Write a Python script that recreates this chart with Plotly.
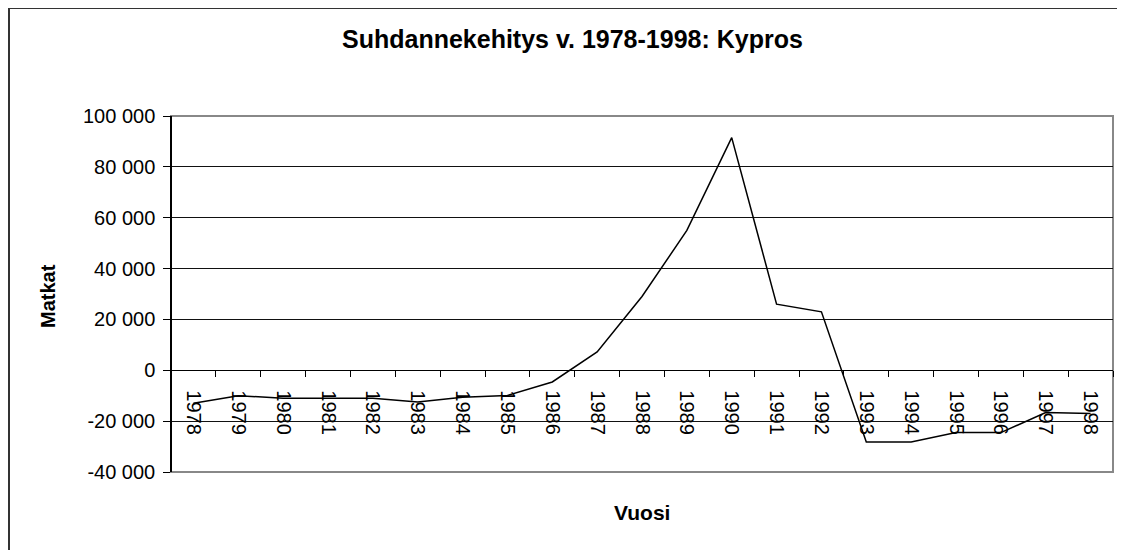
import plotly.graph_objects as go

years = [str(y) for y in range(1978, 1999)]
values = [-13000, -10000, -11000, -11000, -11000, -12500, -10600, -9900, -4600, 7200,
          29000, 55000, 91500, 26000, 23000, -28200, -28200, -24500, -24500, -16600, -17000]
y_ticks = [-40000, -20000, 0, 20000, 40000, 60000, 80000, 100000]
y_ticktext = ["-40 000", "-20 000", "0", "20 000", "40 000", "60 000", "80 000", "100 000"]
y_min, y_max = -40000, 100000

title_text = "Suhdannekehitys v. 1978-1998: Kypros"
x_title = "Vuosi"
y_title = "Matkat"

FONT = "Arial, Liberation Sans, sans-serif"

# page is offset by 8px body margin; plot area on page: x 171..1113, y 116..472
L, T, PW, PH = 163, 108, 942, 356


def px(x):
    return (x - 171) / PW


def py(y):
    return (472 - y) / PH


fig = go.Figure()
fig.add_trace(go.Scatter(x=years, y=values, mode="lines",
                         line=dict(color="black", width=1.5), showlegend=False,
                         hoverinfo="x+y"))

fig.update_layout(
    width=1125, height=550,
    margin=dict(l=L, r=1125 - L - PW, t=T, b=550 - T - PH),
    paper_bgcolor="white", plot_bgcolor="white",
    font=dict(family=FONT, color="black"),
    xaxis=dict(type="category", anchor="free",
               range=[-0.5, len(years) - 0.5],
               position=(0 - y_min) / (y_max - y_min),
               showline=True, linecolor="black", linewidth=1,
               ticks="outside", ticklen=6, tickcolor="black", tickwidth=1,
               tickson="boundaries", tickangle=90,
               tickfont=dict(size=20, family=FONT, color="black"),
               ticklabelstandoff=15,
               showgrid=False, zeroline=False, fixedrange=True),
    yaxis=dict(range=[y_min, y_max], anchor="free", position=0,
               tickvals=y_ticks, ticktext=y_ticktext,
               showline=True, linecolor="black", linewidth=1.5,
               ticks="outside", ticklen=7, tickcolor="black",
               tickfont=dict(size=20, family=FONT, color="black"),
               ticklabelstandoff=4,
               showgrid=True, gridcolor="#111111", gridwidth=1,
               zeroline=True, zerolinecolor="black", zerolinewidth=1,
               fixedrange=True),
    shapes=[
        dict(type="rect", xref="x domain", yref="y domain", x0=0, x1=1, y0=0, y1=1,
             line=dict(color="#888888", width=2), layer="below"),
        dict(type="rect", xref="paper", yref="paper",
             x0=px(9), x1=1.05, y0=-0.3, y1=py(8),
             line=dict(color="#333333", width=2), layer="below"),
    ],
    annotations=[
        dict(text="<b>" + title_text + "</b>", xref="paper", yref="paper",
             x=px(572), y=py(39), xanchor="center", yanchor="middle",
             showarrow=False, font=dict(size=25, family=FONT, color="black")),
        dict(text="<b>" + x_title + "</b>", xref="paper", yref="paper",
             x=px(642), y=py(512), xanchor="center", yanchor="middle",
             showarrow=False, font=dict(size=21, family=FONT, color="black")),
        dict(text="<b>" + y_title + "</b>", xref="paper", yref="paper",
             x=px(48), y=py(296), xanchor="center", yanchor="middle",
             textangle=-90, showarrow=False, font=dict(size=20, family=FONT, color="black")),
    ],
)

fig.write_html("out.html")
